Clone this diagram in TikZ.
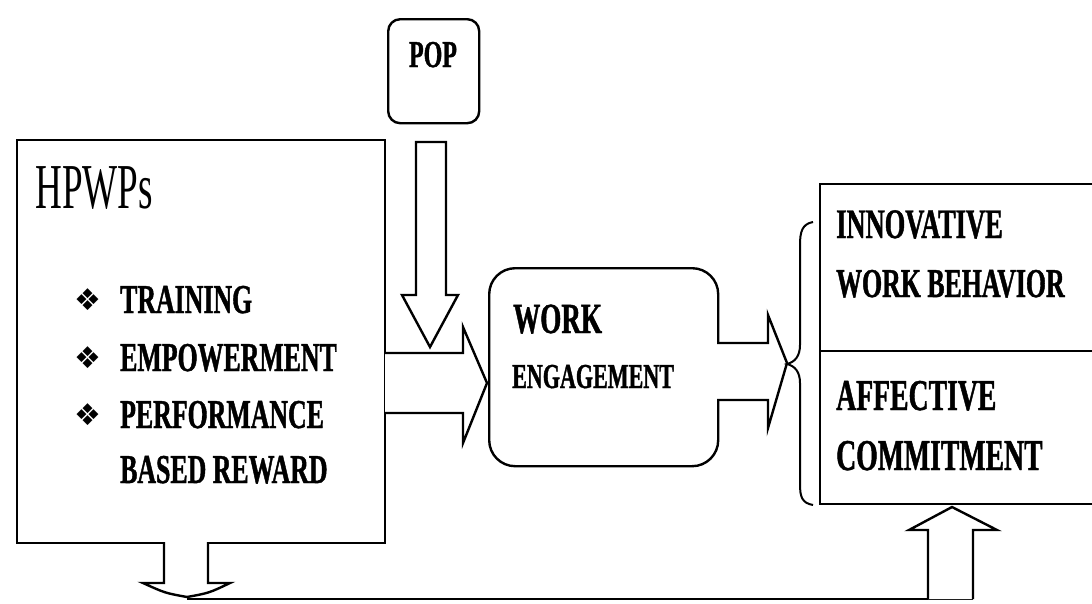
\documentclass[tikz,border=0pt]{standalone}
\usepackage{fontspec}
\setmainfont{Liberation Serif}
\newfontfamily\cbfont{Liberation Serif}[FakeStretch=0.63,FakeBold=1]
\newfontfamily\hpfont{Liberation Serif}[FakeStretch=0.58]
\newfontfamily\dvfont{DejaVu Sans}
\newcommand{\fsz}[1]{\fontsize{#1}{#1}\selectfont}
\tikzset{
  box/.style={draw, line width=2.4pt, inner sep=0pt, anchor=north west},
  blk/.style={draw, line width=2.4pt, line join=miter, fill=white},
  lbl/.style={inner sep=0pt, anchor=base west, font=\cbfont\bfseries\fsz{41}},
  bul/.style={inner sep=0pt, font=\dvfont\fsz{30}},
  ln/.style={draw, line width=2.4pt}
}
\begin{document}
\begin{tikzpicture}[x=1pt,y=-1pt]
\useasboundingbox[fill=white] (0,0) rectangle (1092,603);

% boxes
\node[box, rounded corners=12pt, minimum width=91pt, minimum height=104pt] (pop) at (387,18) {};
\node[box, minimum width=368pt, minimum height=403pt] (hp) at (16,139) {};
\node[box, rounded corners=26pt, minimum width=229pt, minimum height=198pt] (we) at (488,267) {};
% right box (open on the right edge)
\coordinate (rtl) at (820,184);
\coordinate (rbl) at (820,504);
\coordinate (rml) at (820,351);
\draw[ln] (1092,184) -- (rtl) -- (rbl) -- (1092,504);
\draw[ln] (rml) -- (1092,351);

% texts
\node[inner sep=0pt, anchor=base, font=\cbfont\bfseries\fsz{38}] (poptx) at (433,67) {POP};
\node[inner sep=0pt, anchor=base west, font=\hpfont\fsz{64}] (hptx) at (35,208) {HPWPs};
\node[bul] (b1) at (88,300) {❖};
\node[bul] (b2) at (88,358) {❖};
\node[bul] (b3) at (88,415) {❖};
\node[lbl] (t1) at (120,313) {TRAINING};
\node[lbl] (t2) at (120,371) {EMPOWERMENT};
\node[lbl] (t3) at (120,428) {PERFORMANCE};
\node[lbl] (t4) at (120,483) {BASED REWARD};
\node[lbl, font=\cbfont\bfseries\fsz{43}] (w1) at (513,333) {WORK};
\node[lbl, font=\cbfont\bfseries\fsz{35}] (w2) at (512,388) {ENGAGEMENT};
\node[lbl, font=\cbfont\bfseries\fsz{42}] (r1) at (836,238) {INNOVATIVE};
\node[lbl] (r2) at (836,297) {WORK BEHAVIOR};
\node[lbl, font=\cbfont\bfseries\fsz{44}] (r3) at (836,410) {AFFECTIVE};
\node[lbl, font=\cbfont\bfseries\fsz{44}] (r4) at (836,470) {COMMITMENT};

% block arrow HPWPs -> Work engagement
\draw[blk] (385,353) -- (463,353) -- (463,327) -- (487,383) -- (463,443) -- (463,413) -- (385,413);
% block arrow POP -> down
\draw[blk] (416,142) -- (446,142) -- (446,295) -- (458,295) -- (430,347) -- (402,295) -- (416,295) -- cycle;
% block arrow Work engagement -> outcomes
\draw[blk] (717,343) -- (768,343) -- (768,315) -- (787,363) -- (768,428) -- (768,400) -- (717,400);
% brace
\draw[ln, line width=2pt] (813,222) .. controls (802,224) and (800,232) .. (800,245)
  -- (800,345) .. controls (800,356) and (795,362) .. (787,364)
  .. controls (795,366) and (800,372) .. (800,383)
  -- (800,484) .. controls (800,497) and (802,503) .. (813,505);
% bottom arrows
\draw[blk] (164,542) -- (164,583) -- (143,583) .. controls (165,593) .. (187,597) .. controls (209,593) .. (230,583) -- (208,583) -- (208,542);
\draw[ln] (187,599) -- (973,599);
\draw[blk] (928,599) -- (928,530) -- (909,530) -- (952,507) -- (997,530) -- (973,530) -- (973,599);
\end{tikzpicture}
\end{document}
